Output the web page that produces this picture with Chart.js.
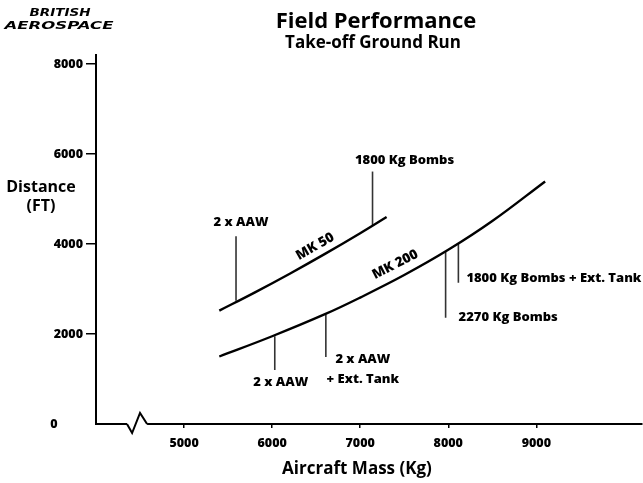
<!DOCTYPE html>
<html>
<head>
<meta charset="utf-8">
<script src="https://cdn.jsdelivr.net/npm/chart.js@4/dist/chart.umd.min.js"></script>
<style>
html, body { margin: 0; padding: 0; background: #fff; }
#wrap { width: 643px; height: 483px; }
</style>
</head>
<body>
<div id="wrap"><canvas id="fieldChart" width="643" height="483"></canvas></div>
<script>
var xTicks = [5000, 6000, 7000, 8000, 9000];
var yTicks = [2000, 4000, 6000, 8000];

// take-off ground run (ft) against aircraft mass (kg)
var mk50Mass = [5400, 5800, 6200, 6600, 7000, 7300];
var mk50Dist = [2520, 2920, 3340, 3780, 4240, 4600];
var mk200Mass = [5400, 6000, 6600, 7000, 7500, 8000, 8500, 9100];
var mk200Dist = [1500, 1950, 2440, 2810, 3310, 3870, 4510, 5390];

// store configurations: drop line from the curve to the label
var dropMass = [5590, 7140, 6030, 6610, 7970, 8115];
var dropCurve = [2740, 4420, 1950, 2440, 3840, 4010];
var dropEnd = [4170, 5610, 1200, 1490, 2360, 3140];
var dropLabels = [['2 x AAW'], ['1800 Kg Bombs'], ['2 x AAW'], ['2 x AAW', '+ Ext. Tank'], ['2270 Kg Bombs'], ['1800 Kg Bombs + Ext. Tank']];

var curveNames = ['MK 50', 'MK 200'];

// axis break zigzag
var breakMass = [4352, 4410, 4500, 4580];
var breakDist = [0, -200, 245, 0];

var FONT = "'Open Sans', 'DejaVu Sans', sans-serif";

var datasets = [{
    data: mk50Mass.map(function (m, i) { return {x: m, y: mk50Dist[i]}; }),
    borderColor: '#000', borderWidth: 2.4, pointRadius: 0, showLine: true, tension: 0.4
}, {
    data: mk200Mass.map(function (m, i) { return {x: m, y: mk200Dist[i]}; }),
    borderColor: '#000', borderWidth: 2.4, pointRadius: 0, showLine: true, tension: 0.4
}];
dropMass.forEach(function (m, i) {
    datasets.push({
        data: [{x: m, y: dropCurve[i]}, {x: m, y: dropEnd[i]}],
        borderColor: '#333', borderWidth: 1.6, pointRadius: 0, showLine: true
    });
});

var labelPlace = [[5, -14, 'center'], [32, -11, 'center'], [6, 12, 'center'], [37, 2, 'center'], [13, -1, 'left'], [8, -4, 'left']];
var curveLabelAt = [[6489, 3942, 0, 2, 4], [7398, 3541, 1, 3, 4]];

var decor = {
    id: 'decor',
    afterDatasetsDraw: function (chart) {
        var ctx = chart.ctx, xs = chart.scales.x, ys = chart.scales.y;
        ctx.save();
        ctx.strokeStyle = '#000';

        // axis break
        var bx = breakMass.map(function (v) { return xs.getPixelForValue(v); });
        var by = breakDist.map(function (v) { return ys.getPixelForValue(v); });
        ctx.fillStyle = '#fff';
        ctx.fillRect(bx[0], by[0] - 2, bx[3] - bx[0], 4);
        ctx.beginPath();
        ctx.lineWidth = 2;
        ctx.moveTo(bx[0], by[0]);
        for (var k = 1; k < 4; k++) ctx.lineTo(bx[k], by[k]);
        ctx.stroke();
        ctx.fillStyle = '#000';

        // zero label sits off to the left
        ctx.font = '800 12.5px ' + FONT;
        ctx.textAlign = 'center';
        ctx.textBaseline = 'middle';
        ctx.fillText('0', 54, ys.getPixelForValue(0));

        // drop line labels
        ctx.font = '800 13px ' + FONT;
        dropLabels.forEach(function (lines, i) {
            var px = xs.getPixelForValue(dropMass[i]);
            var py = ys.getPixelForValue(dropEnd[i]);
            ctx.textAlign = labelPlace[i][2];
            lines.forEach(function (t, j) {
                ctx.fillText(t, px + labelPlace[i][0], py + labelPlace[i][1] + j * 20);
            });
        });

        // curve names along the lines
        ctx.font = '800 13.5px ' + FONT;
        curveLabelAt.forEach(function (c) {
            var pts = chart.getDatasetMeta(c[2]).data;
            var a = Math.atan2(pts[c[4]].y - pts[c[3]].y, pts[c[4]].x - pts[c[3]].x);
            ctx.save();
            ctx.translate(xs.getPixelForValue(c[0]), ys.getPixelForValue(c[1]));
            ctx.rotate(a);
            ctx.textAlign = 'center';
            ctx.fillText(curveNames[c[2]], 0, 0);
            ctx.restore();
        });

        // titles
        ctx.textAlign = 'center';
        ctx.textBaseline = 'alphabetic';
        ctx.font = '700 22px ' + FONT;
        ctx.fillText('Field Performance', 376, 28);
        ctx.font = '700 17px ' + FONT;
        ctx.fillText('Take-off Ground Run', 373, 48);
        ctx.font = '700 17px ' + FONT;
        ctx.fillText('Aircraft Mass (Kg)', 357, 474);
        ctx.font = '700 16px ' + FONT;
        ctx.fillText('Distance', 41, 192);
        ctx.fillText('(FT)', 41, 211);

        // logo
        ctx.font = "italic bold 10px 'DejaVu Sans', sans-serif";
        ctx.save();
        ctx.translate(60, 16);
        ctx.scale(1.35, 1);
        ctx.fillText('BRITISH', 0, 0);
        ctx.restore();
        ctx.save();
        ctx.translate(59, 29);
        ctx.scale(1.65, 1);
        ctx.fillText('AEROSPACE', 0, 0);
        ctx.restore();
        ctx.restore();
    }
};

function plain(v) { return String(v); }

var chart = new Chart(document.getElementById('fieldChart').getContext('2d'), {
    type: 'scatter',
    data: {datasets: datasets},
    options: {
        responsive: false,
        animation: false,
        layout: {padding: {top: 55, right: 1, left: 0, bottom: 0}},
        plugins: {legend: {display: false}, tooltip: {enabled: false}},
        scales: {
            x: {
                type: 'linear', min: 4000, max: 10200,
                afterBuildTicks: function (axis) { axis.ticks = xTicks.map(function (v) { return {value: v}; }); },
                afterFit: function (axis) { axis.height = 59; },
                grid: {drawOnChartArea: false, drawTicks: true, tickLength: 4, color: '#000', lineWidth: 1.5},
                border: {display: true, color: '#000', width: 2},
                ticks: {color: '#000', padding: 8, callback: plain, font: {family: FONT, size: 12.5, weight: '800'}, maxRotation: 0}
            },
            y: {
                type: 'linear', min: 0, max: 8200,
                afterBuildTicks: function (axis) { axis.ticks = yTicks.map(function (v) { return {value: v}; }); },
                afterFit: function (axis) { axis.width = 96; },
                grid: {drawOnChartArea: false, drawTicks: true, tickLength: 10, color: '#000', lineWidth: 1.5},
                border: {display: true, color: '#000', width: 2},
                ticks: {color: '#000', padding: 3, callback: plain, font: {family: FONT, size: 12.5, weight: '800'}}
            }
        }
    },
    plugins: [decor]
});
</script>
</body>
</html>
